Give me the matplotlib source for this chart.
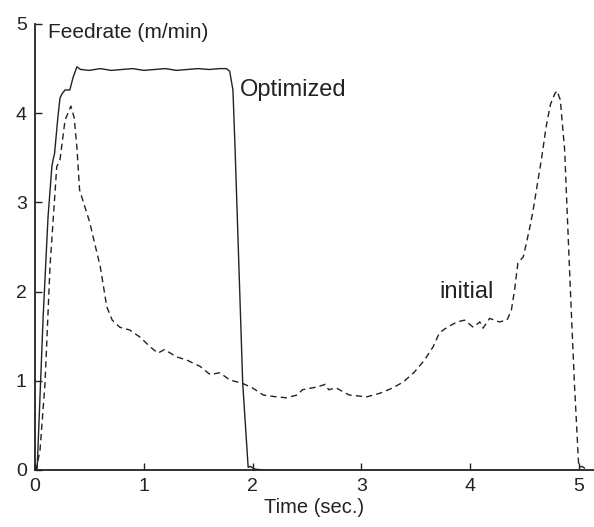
import matplotlib
matplotlib.use("Agg")
import matplotlib.pyplot as plt

plt.rcParams['font.family'] = ['Liberation Sans', 'DejaVu Sans']

# Optimized feedrate (solid)
opt_t = [0.0, 0.02, 0.075, 0.12, 0.155, 0.165, 0.18, 0.21, 0.23, 0.25, 0.276, 0.30, 0.32, 0.35, 0.385,
         0.42, 0.50, 0.60, 0.70, 0.80, 0.90, 1.00, 1.10, 1.20, 1.30, 1.40, 1.50, 1.60, 1.70, 1.76,
         1.79, 1.82, 1.84, 1.91, 1.96, 1.98, 2.02, 2.10]
opt_v = [0.0, 0.02, 1.72, 2.84, 3.40, 3.47, 3.55, 3.95, 4.17, 4.22, 4.26, 4.26, 4.26, 4.40, 4.52,
         4.49, 4.48, 4.50, 4.48, 4.49, 4.50, 4.48, 4.49, 4.50, 4.48, 4.49, 4.50, 4.49, 4.50, 4.50,
         4.47, 4.26, 3.59, 0.97, 0.03, 0.04, 0.01, 0.0]

# Initial feedrate (dashed)
init_t = [0.0, 0.01, 0.046, 0.092, 0.138, 0.20, 0.23, 0.276, 0.33, 0.36, 0.385, 0.41, 0.43, 0.505, 0.535,
          0.60, 0.66, 0.71, 0.78, 0.87, 0.965, 1.06, 1.13, 1.19, 1.30, 1.40, 1.52, 1.61, 1.70, 1.79,
          1.91, 2.00, 2.10, 2.22, 2.31, 2.41, 2.46, 2.59, 2.67, 2.70, 2.77, 2.89, 3.05, 3.17, 3.29,
          3.39, 3.49, 3.58, 3.66, 3.72, 3.79, 3.88, 3.95, 4.03, 4.09, 4.12, 4.18, 4.27, 4.34, 4.38,
          4.41, 4.44, 4.49, 4.55, 4.58, 4.62, 4.66, 4.70, 4.74, 4.78, 4.80, 4.83, 4.87, 4.92, 4.96,
          5.00, 5.03, 5.08]
init_v = [0.0, 0.0, 0.22, 0.97, 2.28, 3.40, 3.48, 3.92, 4.08, 3.95, 3.62, 3.14, 3.06, 2.77, 2.61,
          2.28, 1.83, 1.68, 1.60, 1.57, 1.49, 1.38, 1.31, 1.35, 1.27, 1.23, 1.16, 1.07, 1.09, 1.01,
          0.97, 0.92, 0.84, 0.82, 0.81, 0.84, 0.90, 0.93, 0.96, 0.90, 0.92, 0.84, 0.82, 0.86, 0.92,
          0.99, 1.10, 1.23, 1.38, 1.54, 1.60, 1.66, 1.68, 1.60, 1.66, 1.59, 1.70, 1.66, 1.68, 1.79,
          2.02, 2.32, 2.39, 2.72, 2.91, 3.21, 3.51, 3.85, 4.10, 4.22, 4.25, 4.15, 3.59, 2.10, 0.97,
          0.03, 0.04, 0.0]

xticks = [0, 1, 2, 3, 4, 5]
yticks = [0, 1, 2, 3, 4, 5]

fig = plt.figure(figsize=(5.94, 5.27), dpi=100)
ax = fig.add_axes([35 / 594, 1 - 470 / 527, 1 - 35 / 594, (470 - 24) / 527])

ink = '#222222'
ax.plot(opt_t, opt_v, color=ink, lw=1.0, solid_joinstyle='round')
ax.plot(init_t, init_v, color=ink, lw=1.0, dashes=(4.5, 3.0))

ax.set_xlim(0, 5.14)
ax.set_ylim(0, 5)
ax.set_xticks(xticks)
ax.set_yticks(yticks)
ax.spines['top'].set_visible(False)
ax.spines['right'].set_visible(False)
for s in ('left', 'bottom'):
    ax.spines[s].set_color(ink)
    ax.spines[s].set_linewidth(1.3)
ax.tick_params(direction='in', length=5, width=1.0, colors=ink, labelsize=14, pad=6)
ax.set_xlabel('Time (sec.)', fontsize=14.5, color=ink, labelpad=2)

ax.text(0.12, 4.90, 'Feedrate (m/min)', fontsize=15, color=ink, va='center', ha='left')
ax.text(1.884, 4.26, 'Optimized', fontsize=17, color=ink, va='center', ha='left')
ax.text(3.72, 2.0, 'initial', fontsize=17, color=ink, va='center', ha='left')

fig.savefig('out.png', dpi=100)
